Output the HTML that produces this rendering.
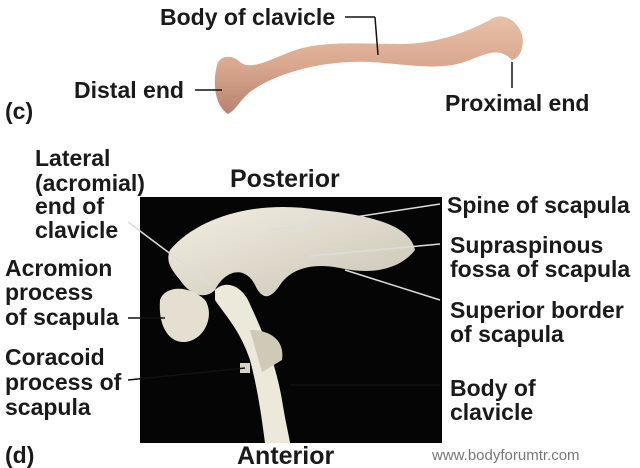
<!DOCTYPE html>
<html><head><meta charset="utf-8"><style>
html,body{margin:0;padding:0;background:#fff;}
svg{display:block;}
text{font-family:"Liberation Sans",Arial,sans-serif;font-weight:bold;fill:#1a1a1a;font-size:23px;}
</style></head><body>
<svg width="640" height="468" viewBox="0 0 640 468" xmlns="http://www.w3.org/2000/svg">
<defs>
<linearGradient id="cl" x1="0" y1="0" x2="0" y2="1">
<stop offset="0" stop-color="#e8c0a8"/><stop offset="0.5" stop-color="#d9a88e"/><stop offset="1" stop-color="#b88270"/>
</linearGradient>
<linearGradient id="bn" x1="0" y1="0" x2="1" y2="1">
<stop offset="0" stop-color="#f2eee2"/><stop offset="1" stop-color="#c9c4b4"/>
</linearGradient>
</defs>
<path d="M218 62 C212 80 214 105 228 114 C236 110 240 100 250 92 C280 70 330 60 370 62 C410 64 440 72 470 60 C490 52 500 48 512 60 C522 58 526 40 520 30 C514 18 500 12 490 20 C470 30 440 44 400 44 C360 44 320 40 290 52 C265 62 250 70 240 62 C234 56 224 54 218 62 Z" fill="url(#cl)"/>
<rect x="140" y="197" width="302" height="246" fill="#050505"/>
<path d="M170 250 C200 215 260 200 320 210 C370 215 410 225 415 250 C400 270 370 275 340 268 C310 262 290 270 280 285 C270 300 262 300 255 285 C245 265 225 270 215 290 C205 300 190 295 180 280 C172 270 165 262 170 250 Z" fill="url(#bn)"/>
<path d="M160 300 C165 285 190 285 205 300 C215 315 205 340 185 342 C168 343 158 325 160 300 Z" fill="#e4dfd0"/>
<path d="M215 290 C225 280 240 285 248 300 C262 330 275 360 282 400 C286 425 290 440 290 443 L265 443 C262 420 258 390 250 360 C240 330 225 315 215 300 Z" fill="#ece8da"/>
<path d="M250 330 C270 330 285 340 282 360 L262 372 Z" fill="#cfc9b8"/>
<rect x="240" y="363" width="10" height="10" fill="#d8d2c2"/>
<g stroke="#111" stroke-width="1.5" fill="none">
<line x1="345" y1="17" x2="375" y2="17"/><line x1="375" y1="17" x2="378" y2="55"/>
<line x1="195" y1="90" x2="222" y2="90"/>
<line x1="512" y1="62" x2="512" y2="88"/>
<line x1="128" y1="222" x2="212" y2="285" stroke="#ddd"/>
<line x1="440" y1="204" x2="270" y2="230" stroke="#ddd"/>
<line x1="440" y1="244" x2="310" y2="256" stroke="#ddd"/>
<line x1="440" y1="300" x2="345" y2="270" stroke="#ddd"/>
<line x1="128" y1="318" x2="165" y2="318"/>
<line x1="128" y1="380" x2="245" y2="368"/>
<line x1="440" y1="385" x2="290" y2="385"/>
</g>
<text x="160" y="25">Body of clavicle</text>
<text x="74" y="98">Distal end</text>
<text x="5" y="119">(c)</text>
<text x="445" y="111">Proximal end</text>
<text x="35" y="166">Lateral</text>
<text x="35" y="191">(acromial)</text>
<text x="35" y="214">end of</text>
<text x="35" y="238">clavicle</text>
<text x="230" y="187" style="font-size:25px">Posterior</text>
<text x="5" y="276">Acromion</text>
<text x="5" y="300">process</text>
<text x="5" y="325">of scapula</text>
<text x="5" y="365">Coracoid</text>
<text x="5" y="390">process of</text>
<text x="5" y="415">scapula</text>
<text x="5" y="463">(d)</text>
<text x="237" y="464" style="font-size:25px">Anterior</text>
<text x="447" y="213">Spine of scapula</text>
<text x="450" y="253">Supraspinous</text>
<text x="450" y="277">fossa of scapula</text>
<text x="450" y="318">Superior border</text>
<text x="450" y="342">of scapula</text>
<text x="450" y="396">Body of</text>
<text x="450" y="420">clavicle</text>
<text x="432" y="460" style="font-size:15px;font-weight:normal;fill:#777">www.bodyforumtr.com</text>
</svg>
</body></html>
